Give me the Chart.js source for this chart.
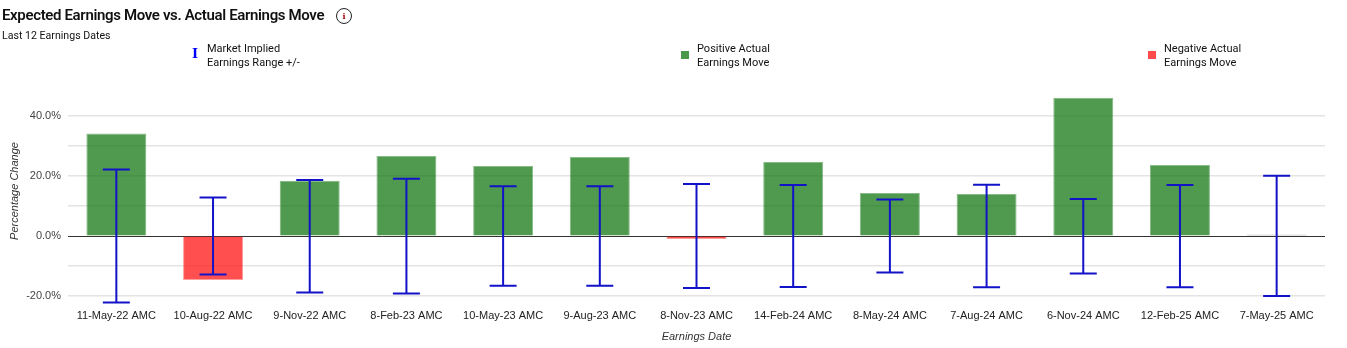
<!DOCTYPE html>
<html>
<head>
<meta charset="utf-8">
<script src="https://cdn.jsdelivr.net/npm/chart.js@4"></script>
<style>
  html, body { margin: 0; padding: 0; background: #fff; }
  #wrap { position: relative; width: 1347px; height: 348px; overflow: hidden; }
  #chart { position: absolute; left: 0; top: 0; }
  .title { position: absolute; left: 2px; top: 6px; font: 600 15px Roboto, sans-serif; color: #111; letter-spacing: -0.35px; }
  .info { position: absolute; left: 336px; top: 8px; width: 14px; height: 14px; border: 1px solid #222; border-radius: 50%;
          font: bold 8px "DejaVu Serif", serif; color: #a00; text-align: center; line-height: 14px; }
  .sub { position: absolute; left: 2px; top: 29px; font: 10.6px Roboto, sans-serif; color: #111; }
  .leg { position: absolute; top: 42px; font: 11px Roboto, sans-serif; color: #111; line-height: 14px; }
  .sw { position: absolute; top: 51px; width: 8px; height: 8px; }
  .ibar { position: absolute; left: 192px; top: 46px; font: bold 13px "DejaVu Serif", serif; color: #0000ff; }
</style>
</head>
<body>
<div id="wrap">
  <canvas id="chart" width="1347" height="348"></canvas>
  <div class="title">Expected Earnings Move vs. Actual Earnings Move</div>
  <div class="info">i</div>
  <div class="sub">Last 12 Earnings Dates</div>
  <div class="ibar">I</div>
  <div class="leg" style="left:207px">Market Implied<br>Earnings Range +/-</div>
  <div class="sw" style="left:681px;background:#4a984a"></div>
  <div class="leg" style="left:697px">Positive Actual<br>Earnings Move</div>
  <div class="sw" style="left:1148px;background:#ff4d4d"></div>
  <div class="leg" style="left:1164px">Negative Actual<br>Earnings Move</div>
</div>
<script>
// earnings dates (x categories)
const earningsDates = [
  '11-May-22 AMC', '10-Aug-22 AMC', '9-Nov-22 AMC', '8-Feb-23 AMC', '10-May-23 AMC',
  '9-Aug-23 AMC', '8-Nov-23 AMC', '14-Feb-24 AMC', '8-May-24 AMC', '7-Aug-24 AMC',
  '6-Nov-24 AMC', '12-Feb-25 AMC', '7-May-25 AMC'
];

// actual move after earnings, %
const actualMove = [34.2, -14.7, 18.4, 26.7, 23.3, 26.3, -1.0, 24.7, 14.3, 14.0, 46.1, 23.7, 0.5];

// market implied range +/- (%)
const impliedUp = [22.2, 12.8, 18.7, 19.1, 16.6, 16.6, 17.3, 17.0, 12.2, 17.1, 12.3, 17.0, 20.1];
const impliedDown = [-22.2, -12.8, -18.8, -19.2, -16.6, -16.6, -17.3, -17.0, -12.2, -17.1, -12.5, -17.1, -20.0];

const yTicks = { min: -20, max: 50, step: 10 };

function barColor(v) {
  if (v > 0.5) return 'rgba(20, 120, 20, 0.75)';
  if (v < -0.5) return 'rgba(255, 20, 20, 0.75)';
  return 'rgba(120, 120, 120, 0.75)';
}
function barBorder(v) {
  if (v > 0.5) return 'rgba(20, 120, 20, 0.5)';
  if (v < -0.5) return 'rgba(255, 60, 60, 0.5)';
  return 'rgba(150, 150, 150, 0.6)';
}

// draws the implied range whiskers on top of the bars
const rangePlugin = {
  id: 'impliedRange',
  afterDatasetsDraw(chart) {
    const ctx = chart.ctx;
    const x = chart.scales.x;
    const y = chart.scales.y;
    ctx.save();
    ctx.strokeStyle = '#1212c8';
    ctx.lineWidth = 2;
    earningsDates.forEach((d, i) => {
      const px = x.getPixelForValue(i);
      const top = y.getPixelForValue(impliedUp[i]);
      const bot = y.getPixelForValue(impliedDown[i]);
      ctx.beginPath();
      ctx.moveTo(px, top); ctx.lineTo(px, bot);
      ctx.moveTo(px - 13.5, top); ctx.lineTo(px + 13.5, top);
      ctx.moveTo(px - 13.5, bot); ctx.lineTo(px + 13.5, bot);
      ctx.stroke();
    });
    ctx.restore();
  }
};

new Chart(document.getElementById('chart').getContext('2d'), {
  type: 'bar',
  data: {
    labels: earningsDates,
    datasets: [{
      label: 'Actual Earnings Move',
      data: actualMove,
      backgroundColor: actualMove.map(barColor),
      borderColor: actualMove.map(barBorder),
      borderWidth: 1,
      barPercentage: 0.62,
      categoryPercentage: 1
    }]
  },
  options: {
    responsive: false,
    animation: false,
    layout: { padding: { top: 86, right: 22, left: 0, bottom: 0 } },
    plugins: {
      legend: { display: false },
      tooltip: { enabled: false }
    },
    scales: {
      x: {
        grid: { display: false, drawTicks: false },
        border: { display: false },
        ticks: { color: '#222', font: { family: 'Liberation Sans, Arial', size: 11 }, padding: 13, maxRotation: 0 },
        title: {
          display: true, text: 'Earnings Date', color: '#333',
          font: { family: 'Liberation Sans, Arial', size: 11, style: 'italic' }, padding: { top: 6 }
        },
        afterFit(scale) { scale.height = 52; }
      },
      y: {
        min: yTicks.min,
        max: yTicks.max,
        ticks: {
          stepSize: yTicks.step,
          color: '#444',
          padding: 7,
          font: { family: 'Liberation Sans, Arial', size: 11 },
          callback: v => (v % 20 === 0 ? v.toFixed(1) + '%' : '')
        },
        grid: {
          drawTicks: false,
          color: c => c.tick.value === 0 ? '#333' : (c.tick.value === yTicks.max ? 'rgba(0,0,0,0)' : '#e4e4e4'),
          lineWidth: c => c.tick.value === 0 ? 1 : 1.5
        },
        border: { display: false },
        title: {
          display: true, text: 'Percentage Change', color: '#333',
          font: { family: 'Liberation Sans, Arial', size: 11, style: 'italic' }, padding: { top: 8, bottom: 4 }
        },
        afterFit(scale) { scale.width = 68; }
      }
    }
  },
  plugins: [rangePlugin]
});
</script>
</body>
</html>
